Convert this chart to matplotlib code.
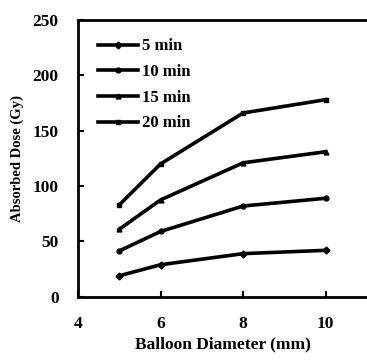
import matplotlib
matplotlib.use("Agg")
import matplotlib.pyplot as plt

# Balloon diameter (mm) and absorbed dose (Gy) for each irradiation time
diameter = [5, 6, 8, 10]
dose_5min = [19, 29, 39, 42]
dose_10min = [41.5, 59, 82, 89]
dose_15min = [61, 87.5, 121, 131]
dose_20min = [83, 120, 166, 178]

series = [
    ("5 min", dose_5min, "D"),
    ("10 min", dose_10min, "o"),
    ("15 min", dose_15min, "^"),
    ("20 min", dose_20min, "s"),
]

plt.rcParams["font.family"] = ["Liberation Serif", "DejaVu Serif"]
plt.rcParams["font.weight"] = "bold"

fig = plt.figure(figsize=(3.67, 3.62), dpi=100)
ax = fig.add_axes([0.2125, 0.18, 0.7875, 0.765])

for label, vals, mk in series:
    ax.plot(diameter, vals, color="black", linewidth=2.6, marker=mk,
            markersize=3.5, label=label)

ax.set_xlim(4, 11)
ax.set_ylim(0, 250)
ax.set_xticks([4, 6, 8, 10])
ax.set_yticks([0, 50, 100, 150, 200, 250])
ax.tick_params(direction="in", length=4, width=1.5, labelsize=12.5)
ax.tick_params(axis="x", pad=14)
ax.tick_params(axis="y", pad=14)
for lab in ax.get_xticklabels() + ax.get_yticklabels():
    lab.set_fontweight("bold")

for side in ["left", "bottom", "top"]:
    ax.spines[side].set_linewidth(2)
ax.spines["right"].set_visible(False)

ax.set_xlabel("Balloon Diameter (mm)", fontsize=12.5, fontweight="bold", labelpad=3)
ax.set_ylabel("Absorbed Dose (Gy)", fontsize=10.5, fontweight="bold", labelpad=6)

leg = ax.legend(loc="upper left", bbox_to_anchor=(0.03, 0.975), frameon=False,
                fontsize=12, handlelength=2.4, handletextpad=0.2,
                labelspacing=0.58, borderaxespad=0.3)
for t in leg.get_texts():
    t.set_fontweight("bold")

fig.savefig("out.png", dpi=100)
